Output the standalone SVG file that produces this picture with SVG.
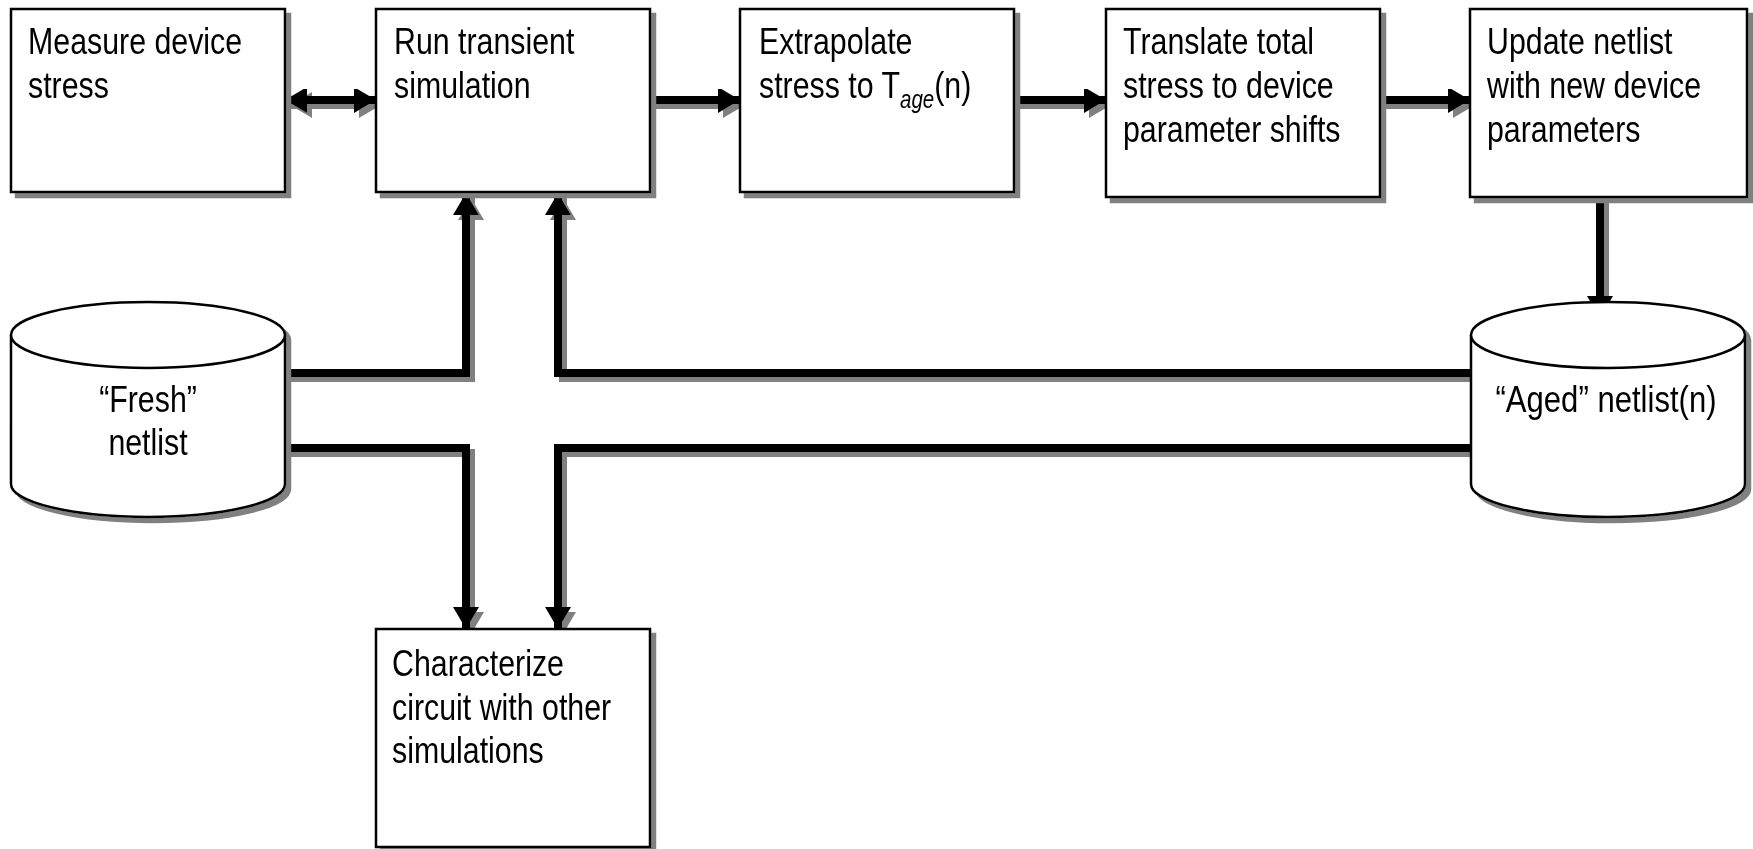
<svg xmlns="http://www.w3.org/2000/svg" width="1753" height="849" viewBox="0 0 1753 849">
<style>
.box{fill:#fff;stroke:#000;stroke-width:2.5}
.t{font-family:"Liberation Sans",Arial,sans-serif;font-size:37px;fill:#000}
.c{text-anchor:middle}
.sub{font-style:italic;font-size:25px}
.ln{fill:none;stroke:#000;stroke-width:8;stroke-linejoin:miter}
.arr{marker-end:url(#ah)}
.dbl{marker-start:url(#ah);marker-end:url(#ah)}
</style>
<defs>
<filter id="sh" x="-10%" y="-10%" width="125%" height="125%">
<feOffset in="SourceAlpha" dx="5" dy="5" result="o"/>
<feFlood flood-color="#808080"/>
<feComposite in2="o" operator="in"/>
<feMerge><feMergeNode/><feMergeNode in="SourceGraphic"/></feMerge>
</filter>
<filter id="shl" x="-2%" y="-2%" width="104%" height="104%">
<feOffset in="SourceAlpha" dx="5" dy="5" result="o"/>
<feFlood flood-color="#808080"/>
<feComposite in2="o" operator="in"/>
<feMerge><feMergeNode/><feMergeNode in="SourceGraphic"/></feMerge>
</filter>
<marker id="ah" markerUnits="userSpaceOnUse" markerWidth="24" markerHeight="26" refX="22" refY="13" orient="auto-start-reverse">
<path d="M0,0 L22,13 L0,26 z" fill="#000"/>
</marker>
</defs>
<rect width="1753" height="849" fill="#fff"/>

<g id="connectors" filter="url(#shl)">
<path class="ln dbl" d="M285,100 L376,100"/>
<path class="ln arr" d="M650,100 L740,100"/>
<path class="ln arr" d="M1014,100 L1106,100"/>
<path class="ln arr" d="M1380,100 L1470,100"/>
<path class="ln arr" d="M1600,197 L1600,318"/>
<path class="ln arr" d="M286,373 L466,373 L466,193"/>
<path class="ln arr" d="M286,448 L466,448 L466,629"/>
<path class="ln arr" d="M1471,373 L558,373 L558,193"/>
<path class="ln arr" d="M1471,448 L558,448 L558,629"/>
</g>

<g id="measure" filter="url(#sh)">
<rect class="box" x="11" y="9" width="274" height="183"/>
<text class="t" transform="translate(28,54) scale(0.82,1)">Measure device</text>
<text class="t" transform="translate(28,98) scale(0.82,1)">stress</text>
</g>
<g id="run" filter="url(#sh)">
<rect class="box" x="376" y="9" width="274" height="183"/>
<text class="t" transform="translate(394,54) scale(0.82,1)">Run transient</text>
<text class="t" transform="translate(394,98) scale(0.82,1)">simulation</text>
</g>
<g id="extrapolate" filter="url(#sh)">
<rect class="box" x="740" y="9" width="274" height="183"/>
<text class="t" transform="translate(759,54) scale(0.82,1)">Extrapolate</text>
<text class="t" transform="translate(759,98) scale(0.82,1)">stress to T<tspan class="sub" dy="10">age</tspan><tspan dy="-10">(n)</tspan></text>
</g>
<g id="translate" filter="url(#sh)">
<rect class="box" x="1106" y="9" width="274" height="188"/>
<text class="t" transform="translate(1123,54) scale(0.82,1)">Translate total</text>
<text class="t" transform="translate(1123,98) scale(0.82,1)">stress to device</text>
<text class="t" transform="translate(1123,142) scale(0.82,1)">parameter shifts</text>
</g>
<g id="update" filter="url(#sh)">
<rect class="box" x="1470" y="9" width="277" height="188"/>
<text class="t" transform="translate(1487,54) scale(0.82,1)">Update netlist</text>
<text class="t" transform="translate(1487,98) scale(0.82,1)">with new device</text>
<text class="t" transform="translate(1487,142) scale(0.82,1)">parameters</text>
</g>
<g id="fresh" filter="url(#sh)">
<path class="box" d="M11,335 A137,33 0 0 1 285,335 L285,484 A137,33 0 0 1 11,484 Z"/>
<path class="box" fill="none" d="M11,335 A137,33 0 0 0 285,335"/>
<text class="t c" transform="translate(148,412) scale(0.82,1)">“Fresh”</text>
<text class="t c" transform="translate(148,455) scale(0.82,1)">netlist</text>
</g>
<g id="aged" filter="url(#sh)">
<path class="box" d="M1471,335 A137,33 0 0 1 1745,335 L1745,484 A137,33 0 0 1 1471,484 Z"/>
<path class="box" fill="none" d="M1471,335 A137,33 0 0 0 1745,335"/>
<text class="t c" transform="translate(1606,412) scale(0.84,1)">“Aged” netlist(n)</text>
</g>
<g id="characterize" filter="url(#sh)">
<rect class="box" x="376" y="629" width="274" height="218"/>
<text class="t" transform="translate(392,676) scale(0.82,1)">Characterize</text>
<text class="t" transform="translate(392,720) scale(0.82,1)">circuit with other</text>
<text class="t" transform="translate(392,763) scale(0.82,1)">simulations</text>
</g>
</svg>
